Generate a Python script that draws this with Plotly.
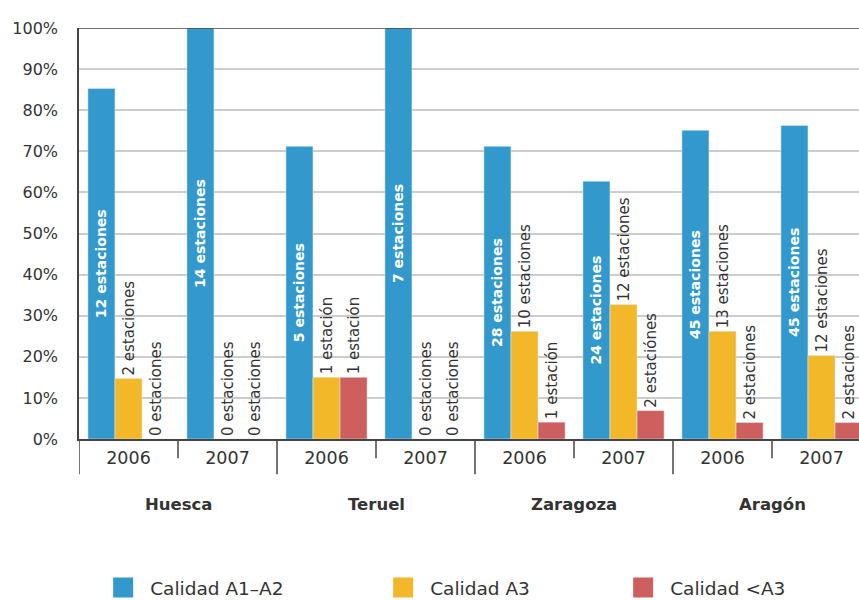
import plotly.graph_objects as go

regions = ["Huesca", "Teruel", "Zaragoza", "Aragón"]
years = ["2006", "2007"]
categories = [f"{r} {y}" for r in regions for y in years]
year_labels = [y for r in regions for y in years]

series_names = ["Calidad A1–A2", "Calidad A3", "Calidad &lt;A3"]
series_colors = ["#3399CC", "#F3B72A", "#CD5F5F"]

a1a2 = [85.3, 100, 71.2, 100, 71.2, 62.7, 75.1, 76.3]
a3 = [14.7, 0, 15.0, 0, 26.2, 32.7, 26.2, 20.3]
lt_a3 = [0, 0, 15.0, 0, 4.1, 6.9, 4.0, 4.0]

a1a2_text = ["12 estaciones", "14 estaciones", "5 estaciones", "7 estaciones",
             "28 estaciones", "24 estaciones", "45 estaciones", "45 estaciones"]
a3_text = ["2 estaciones", "0 estaciones", "1 estación", "0 estaciones",
           "10 estaciones", "12 estaciones", "13 estaciones", "12 estaciones"]
lt_a3_text = ["0 estaciones", "0 estaciones", "1 estación", "0 estaciones",
              "1 estación", "2 estaciónes", "2 estaciones", "2 estaciones"]

FONT = "DejaVu Sans"
DARK = "#333333"
AXIS = "#444444"

fig = go.Figure()

fig.add_trace(go.Bar(
    x=categories, y=a1a2, name=series_names[0], marker_color=series_colors[0],
    text=a1a2_text, textposition="inside", insidetextanchor="middle", textangle=-90,
    insidetextfont=dict(family=FONT, size=14, color="white", weight="bold"),
    constraintext="none", showlegend=False, cliponaxis=False,
))
fig.add_trace(go.Bar(
    x=categories, y=a3, name=series_names[1], marker_color=series_colors[1],
    text=a3_text, textposition="outside", textangle=-90,
    outsidetextfont=dict(family=FONT, size=15, color=DARK),
    constraintext="none", showlegend=False, cliponaxis=False,
))
fig.add_trace(go.Bar(
    x=categories, y=lt_a3, name=series_names[2], marker_color=series_colors[2],
    text=lt_a3_text, textposition="outside", textangle=-90,
    outsidetextfont=dict(family=FONT, size=15, color=DARK),
    constraintext="none", showlegend=False, cliponaxis=False,
))

# legend entries (square swatches)
legend_widths = [221, 181, 150]
for name, color, lw in zip(series_names, series_colors, legend_widths):
    fig.add_trace(go.Scatter(
        x=[None], y=[None], mode="markers", name=name,
        marker=dict(symbol="square", size=16, color=color, line=dict(width=4, color=color)),
        legendwidth=lw, showlegend=True, hoverinfo="skip",
    ))

n = len(categories)
shapes = []
# top frame line at 100%
shapes.append(dict(type="line", xref="paper", yref="y", x0=0, x1=1, y0=100, y1=100,
                   line=dict(color=AXIS, width=1.5)))
# category boundaries: long dividers between regions, short ticks between years
for i in range(n + 1):
    long = (i % len(years) == 0)
    shapes.append(dict(type="line", xref="x", yref="paper",
                       x0=i - 0.5, x1=i - 0.5, y0=0, y1=-0.086 if long else -0.047,
                       line=dict(color=AXIS, width=1.5)))

annotations = []
for k, r in enumerate(regions):
    annotations.append(dict(x=k * len(years) + (len(years) - 1) / 2, xref="x", y=-0.16, yref="paper",
                            text=f"<b>{r}</b>", showarrow=False,
                            font=dict(family=FONT, size=16.5, color=DARK),
                            xanchor="center", yanchor="middle"))

fig.update_layout(
    width=859, height=600,
    margin=dict(l=79, r=0, t=28, b=161, autoexpand=False),
    paper_bgcolor="white", plot_bgcolor="white",
    barmode="group", bargap=0.18, bargroupgap=0,
    font=dict(family=FONT, color=DARK),
    shapes=shapes, annotations=annotations,
    legend=dict(orientation="h", x=0.022, xanchor="left", y=-0.3625, yanchor="middle",
                itemwidth=44,
                font=dict(family=FONT, size=18.5, color=DARK), bgcolor="rgba(0,0,0,0)"),
    xaxis=dict(type="category", categoryorder="array", categoryarray=categories,
               tickvals=categories, ticktext=year_labels, automargin=False,
               range=[-0.5, -0.5 + 780 / 99], ticks="", showgrid=False,
               showline=True, linecolor=AXIS, linewidth=1.5,
               tickfont=dict(family=FONT, size=17.5, color=DARK), ticklabelstandoff=2),
    yaxis=dict(range=[0, 100], dtick=10, ticksuffix="%", ticks="", automargin=False,
               showgrid=True, gridcolor="#CCCCCC", gridwidth=1.5, zeroline=False,
               showline=True, linecolor=AXIS, linewidth=1.5,
               tickfont=dict(family=FONT, size=16, color=DARK), ticklabelstandoff=16),
)

# remove the default 8px page margin so the 859x600 figure fills the window exactly
fig.write_html("out.html", config={"displayModeBar": False},
               post_script="document.body.style.margin='0';")
